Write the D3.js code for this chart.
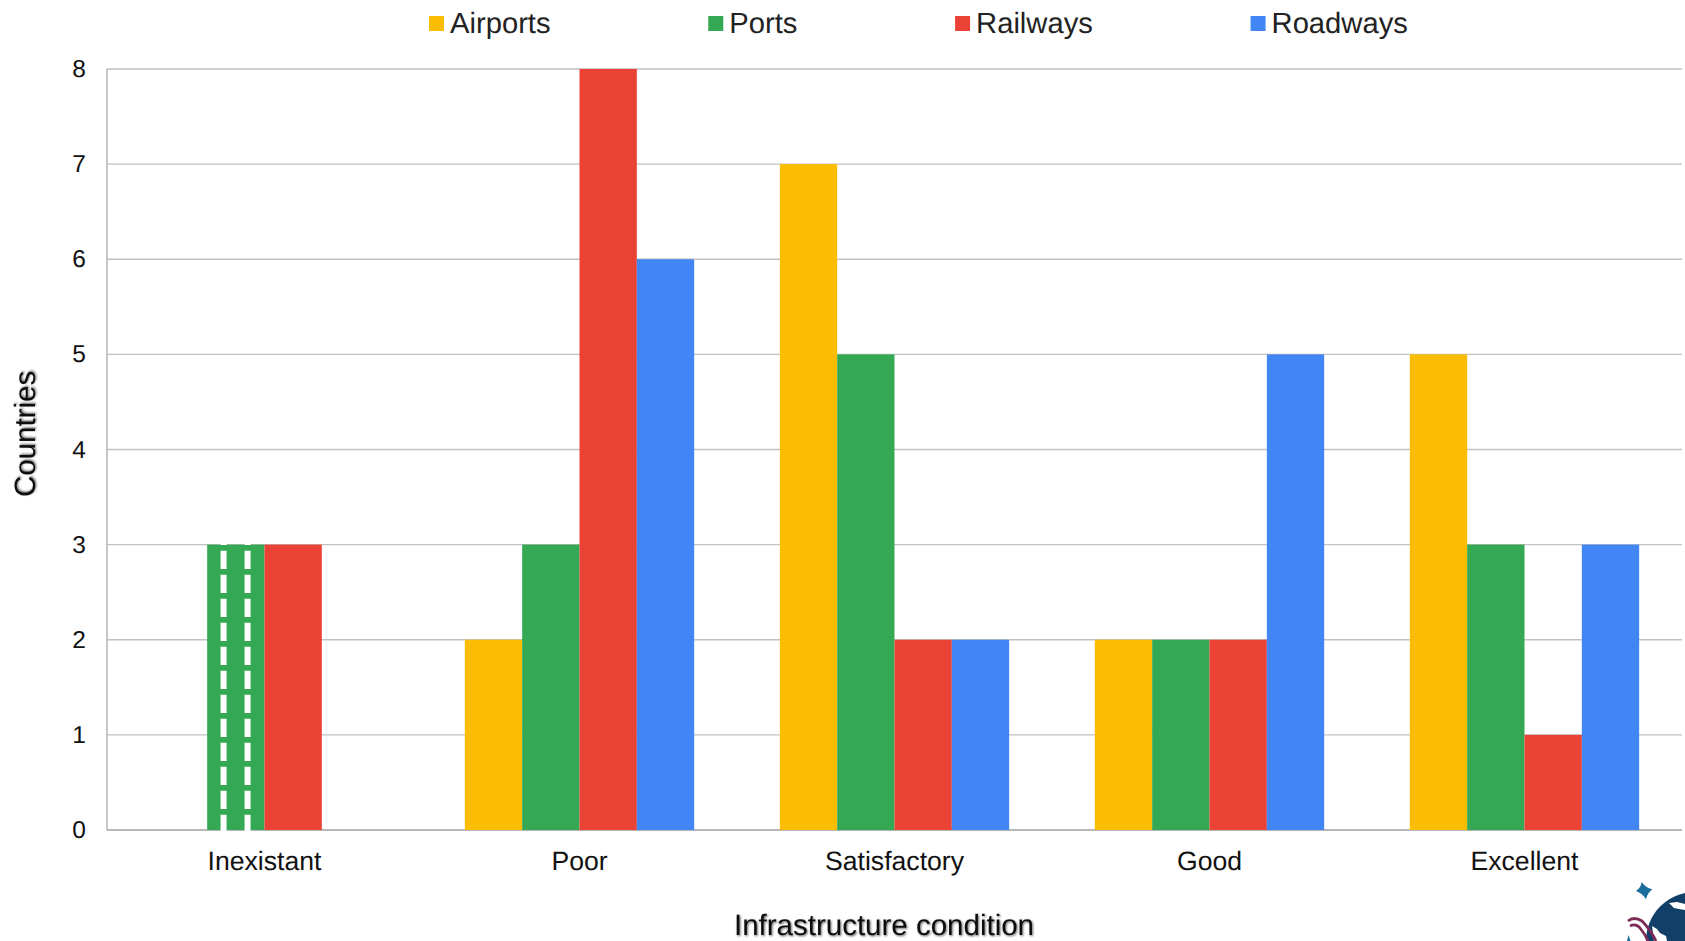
<!DOCTYPE html>
<html>
<head>
<meta charset="utf-8">
<script src="https://cdn.jsdelivr.net/npm/d3@7/dist/d3.min.js"></script>
<style>
  html, body { margin: 0; padding: 0; background: #fff; overflow: hidden; }
  svg { display: block; font-family: "Liberation Sans", Arial, sans-serif; text-rendering: geometricPrecision; }
  .axis-title { font-size: 29.5px; fill: #111; filter: url(#titleShadow); }
</style>
</head>
<body>
<svg id="chart" width="1685" height="941"></svg>
<script>
const conditions = ["Inexistant", "Poor", "Satisfactory", "Good", "Excellent"];
const seriesNames = ["Airports", "Ports", "Railways", "Roadways"];
const seriesColors = ["#fbbc04", "#34a853", "#ea4335", "#4285f4"];
const airports = [0, 2, 7, 2, 5];
const ports = [3, 3, 5, 2, 3];
const railways = [3, 8, 2, 2, 1];
const roadways = [0, 6, 2, 5, 3];
const seriesValues = [airports, ports, railways, roadways];
const yTicks = [0, 1, 2, 3, 4, 5, 6, 7, 8];

const plot = { left: 107, right: 1682, top: 69, bottom: 830 };
const svg = d3.select("#chart");

// Soft drop shadow behind the two axis titles
const shadow = svg.append("defs").append("filter")
  .attr("id", "titleShadow")
  .attr("x", "-5%").attr("y", "-30%").attr("width", "110%").attr("height", "160%");
shadow.append("feDropShadow")
  .attr("dx", 1).attr("dy", 1).attr("stdDeviation", 1.1)
  .attr("flood-color", "#000").attr("flood-opacity", 0.6);

const x = d3.scaleBand().domain(conditions).range([plot.left, plot.right]);
const series = d3.scaleBand().domain(seriesNames)
  .range([0, x.bandwidth() * 0.728]);
const groupInset = (x.bandwidth() - series.range()[1]) / 2;
const y = d3.scaleLinear().domain([0, 8]).range([plot.bottom, plot.top]);

// Horizontal gridlines
svg.append("g").selectAll("line").data(yTicks.slice(1)).join("line")
  .attr("x1", plot.left).attr("x2", plot.right)
  .attr("y1", d => y(d)).attr("y2", d => y(d))
  .attr("stroke", "#c2c2c2").attr("stroke-width", 1.4);

// Axis lines
svg.append("line")
  .attr("x1", plot.left).attr("x2", plot.left)
  .attr("y1", plot.top).attr("y2", plot.bottom)
  .attr("stroke", "#b0b0b0").attr("stroke-width", 1.4);
svg.append("line")
  .attr("x1", plot.left).attr("x2", plot.right)
  .attr("y1", plot.bottom).attr("y2", plot.bottom)
  .attr("stroke", "#a0a0a0").attr("stroke-width", 1.6);

// Grouped bars
seriesNames.forEach((name, s) => {
  svg.append("g").selectAll("rect")
    .data(seriesValues[s].map((v, i) => ({ v, c: conditions[i] })).filter(d => d.v > 0))
    .join("rect")
    .attr("x", d => x(d.c) + groupInset + series(name))
    .attr("y", d => y(d.v))
    .attr("width", series.bandwidth())
    .attr("height", d => plot.bottom - y(d.v))
    .attr("fill", seriesColors[s]);
});

// White dashed strokes over the Ports bar of the first category
const dashOffsets = [16.4, 40.4];
svg.append("g").selectAll("line").data(dashOffsets).join("line")
  .attr("x1", d => x(conditions[0]) + groupInset + series("Ports") + d)
  .attr("x2", d => x(conditions[0]) + groupInset + series("Ports") + d)
  .attr("y1", y(ports[0]) - 1.4)
  .attr("y2", plot.bottom + 1.4)
  .attr("stroke", "#fff").attr("stroke-width", 6)
  .attr("stroke-dasharray", "18.4 5.6")
  .attr("stroke-dashoffset", 16.6);

// Value labels on the left, category labels underneath
svg.append("g").selectAll("text").data(yTicks).join("text")
  .attr("x", 86).attr("y", d => y(d))
  .attr("dy", "0.33em").attr("text-anchor", "end")
  .attr("font-size", 24.5).attr("fill", "#111")
  .text(d => d);
svg.append("g").selectAll("text").data(conditions).join("text")
  .attr("x", d => x(d) + x.bandwidth() / 2).attr("y", 870)
  .attr("text-anchor", "middle")
  .attr("font-size", 26.6).attr("fill", "#111")
  .text(d => d);

// Axis titles
svg.append("text").attr("class", "axis-title")
  .attr("x", 884).attr("y", 934.6).attr("text-anchor", "middle")
  .text("Infrastructure condition");
svg.append("text").attr("class", "axis-title")
  .attr("transform", "translate(35,434) rotate(-90)").attr("text-anchor", "middle")
  .text("Countries");

// Legend: swatch and label pairs spaced by their measured widths
let legendX = 429;
seriesNames.forEach((name, s) => {
  svg.append("rect")
    .attr("x", legendX).attr("y", 16).attr("width", 15).attr("height", 15)
    .attr("fill", seriesColors[s]);
  const label = svg.append("text")
    .attr("x", legendX + 21).attr("y", 33)
    .attr("font-size", 29.2).attr("fill", "#222")
    .text(name);
  legendX += 21 + label.node().getComputedTextLength() + 157.7;
});

// Publisher emblem cut off by the lower right corner
const emblem = svg.append("g");
emblem.append("path")
  .attr("d", "M1641.7 882 Q1645.5 887.5 1652.3 889.3 Q1647.5 893 1646 899.3 Q1642.5 893.5 1636 891 Q1641 887.5 1641.7 882 Z")
  .attr("fill", "#1c6e9c");
emblem.append("circle")
  .attr("cx", 1695).attr("cy", 941).attr("r", 49)
  .attr("fill", "#123f68");
emblem.append("path")
  .attr("d", "M1669 903 l8 -1 l8 2 l0 6 l-6 -1 l-5 -1 Z M1652 926 l5 3 l3 4 l6 3 l1 5 l-13 0 Z")
  .attr("fill", "#fff");
emblem.append("path")
  .attr("d", "M1628 921 Q1634 916 1642 921 Q1650 929 1656 941 M1630 926 Q1636 923 1640 928 Q1645 934 1648 941")
  .attr("fill", "none").attr("stroke", "#7c2b56").attr("stroke-width", 2.8);
emblem.append("path")
  .attr("d", "M1627 941 L1628.5 935 L1630.5 941 Z")
  .attr("fill", "#1c6e9c");
</script>
</body>
</html>
